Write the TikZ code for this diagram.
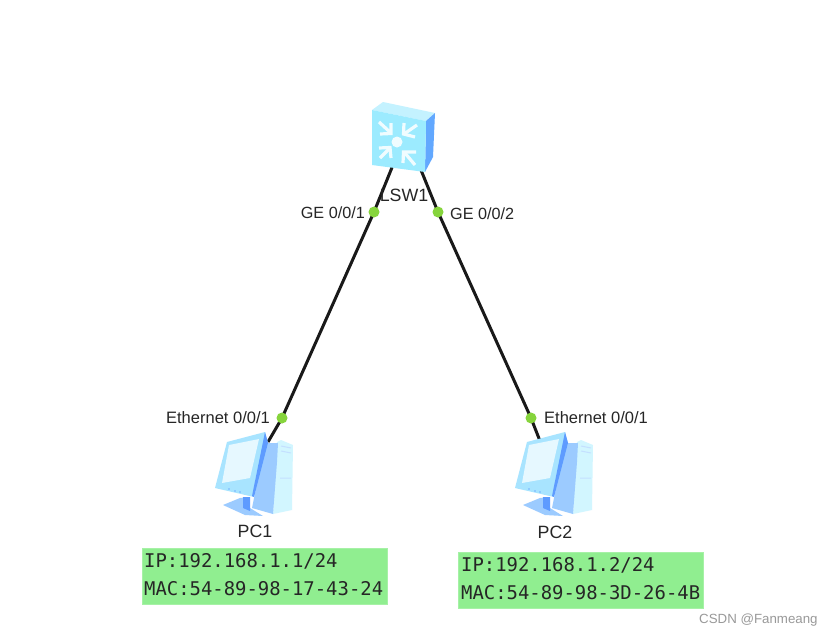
\documentclass[tikz,border=0pt]{standalone}
\usetikzlibrary{backgrounds}
\usepackage{fontspec}
\setmainfont{Liberation Sans}
\newfontfamily\monof{DejaVu Sans Mono}
\begin{document}
\begin{tikzpicture}[x=1pt,y=-1pt,
  lbl/.style={inner sep=0pt,text=black!85,font=\fontsize{16.5}{18}\selectfont},
  gelbl/.style={inner sep=0pt,text=black!85,font=\fontsize{16.2}{18}\selectfont},
  devname/.style={inner sep=0pt,text=black!85,font=\fontsize{17.8}{20}\selectfont},
  port/.style={circle,fill=portgreen,inner sep=0pt,minimum size=11pt},
  link/.style={draw=black!90,line width=3pt},
  infobox/.style={fill=boxgreen,draw=boxgreen!80!white,line width=0.5pt,anchor=north west,minimum width=245pt,minimum height=56pt,inner sep=0pt},
  infotext/.style={anchor=west,inner sep=0pt,text=black!85,font=\monof\fontsize{18.9}{21}\selectfont},
  swarrow/.style={draw=white!85!swfront,line width=3.2pt,line join=miter},
  pcicon/.pic={
    % tower
    \fill[towerlight] (277,442) -- (281,440) -- (293,445) -- (292,510) -- (273,514) -- cycle;
    \fill[towermid] (265,443) -- (278,443) -- (277,462) -- (273,514) -- (252,508) -- cycle;
    \draw[towermid!60!white,line width=1pt] (281,446) -- (291,448) (281,451) -- (291,453) (280,478) -- (291,478);
    % base
    \fill[towermid] (223,505) -- (240,498) -- (248,497) -- (250,508) -- (263,516) -- (245,515) -- cycle;
    \fill[towerdark] (243,497) -- (250,497) -- (250,511) -- (243,508) -- cycle;
    % monitor
    \fill[monframe] (227,442) -- (265,432) -- (268,443) -- (254,497) -- (215,488) -- cycle;
    \fill[towerdark] (265,432) -- (268,443) -- (254,497) -- (252,496) -- cycle;
    \fill[screenc] (229,445) -- (259,439) -- (250,478) -- (222,483) -- cycle;
    \fill[towerdark!70!monframe] (229,489) circle (0.8pt) (235,491) circle (0.8pt) (240,492) circle (0.8pt);
  }]
\definecolor{portgreen}{HTML}{86D43C}
\definecolor{boxgreen}{HTML}{90EE90}
\definecolor{towerlight}{HTML}{D2F6FF}
\definecolor{towermid}{HTML}{9CCBFF}
\definecolor{towerdark}{HTML}{5E9BFF}
\definecolor{monframe}{HTML}{A8E4FF}
\definecolor{screenc}{HTML}{E6F8FF}
\definecolor{swfront}{HTML}{9CEBFF}
\definecolor{swtop}{HTML}{C4F2FF}
\definecolor{swside}{HTML}{62A8FF}
\useasboundingbox (0,0) rectangle (836,635);

% anchor points
\coordinate (swL) at (393,165);
\coordinate (swR) at (421,170);
\coordinate (pcL) at (268,442);
\coordinate (pcR) at (540,441);

% ports
\node[port] (p1) at (374,212) {};
\node[port] (p2) at (438,212) {};
\node[port] (p3) at (282,418) {};
\node[port] (p4) at (531,418) {};

% links, beneath the ports
\begin{pgfonlayer}{background}
\fill[white] (0,0) rectangle (836,635);
\draw[link] (swL) -- (p1.center) -- (p3.center) -- (pcL);
\draw[link] (swR) -- (p2.center) -- (p4.center) -- (pcR);
\end{pgfonlayer}

% switch
\fill[swtop] (372,110) -- (383,102) -- (435,113) -- (426,121) -- cycle;
\fill[swside] (426,121) -- (435,113) -- (433,157) -- (425,172) -- cycle;
\fill[swfront] (372,110) -- (426,121) -- (425,172) -- (372,165) -- cycle;
\fill[white!85!swfront] (397,142) circle (5.5pt);
\draw[swarrow] (379,122) -- (391,133);
\draw[swarrow] (380,134) -- (391,133.5) -- (391,123);
\draw[swarrow] (417,125) -- (404,134);
\draw[swarrow] (404,123) -- (403.5,134) -- (415,137);
\draw[swarrow] (380,158) -- (390,148);
\draw[swarrow] (379,148) -- (390,147.5) -- (391,158);
\draw[swarrow] (415,165) -- (404,152);
\draw[swarrow] (403,163) -- (403.5,152) -- (416,152);

% PCs
\pic {pcicon};
\pic[xshift=300pt] {pcicon};

% labels
\node[devname,anchor=center] (lsw) at (404,195) {LSW1};
\node[gelbl,anchor=east] (l1) at (365,213) {GE 0/0/1};
\node[gelbl,anchor=west] (l2) at (450,214) {GE 0/0/2};
\node[lbl,anchor=east] (l3) at (270,418) {Ethernet 0/0/1};
\node[lbl,anchor=west] (l4) at (544,418) {Ethernet 0/0/1};
\node[devname,anchor=center] (pc1) at (255,531) {PC1};
\node[devname,anchor=center] (pc2) at (555,532) {PC2};

% info boxes
\node[infobox] (b1) at (142,548) {};
\node[infotext] (t1a) at (144,561) {IP:192.168.1.1/24};
\node[infotext] (t1b) at (144,589) {MAC:54-89-98-17-43-24};
\node[infobox] (b2) at (458,552) {};
\node[infotext] (t2a) at (461,565) {IP:192.168.1.2/24};
\node[infotext] (t2b) at (461,593) {MAC:54-89-98-3D-26-4B};

% watermark
\node[anchor=west,inner sep=0pt,text=black!40,font=\fontsize{13.3}{15}\selectfont] (wm) at (699,620) {CSDN @Fanmeang};
\end{tikzpicture}
\end{document}
